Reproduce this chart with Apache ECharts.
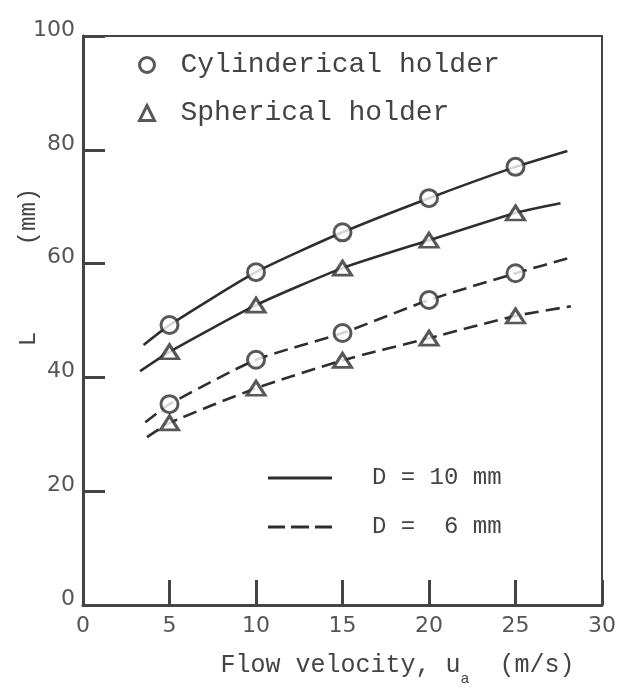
<!DOCTYPE html>
<html>
<head>
<meta charset="utf-8">
<script src="https://cdn.jsdelivr.net/npm/echarts@6/dist/echarts.min.js"></script>
<style>
  html, body { margin: 0; padding: 0; background: #fff; }
  #chart { width: 629px; height: 688px; }
</style>
</head>
<body>
<div id="chart"></div>
<script>
// ---- data ----
const velocity = [5, 10, 15, 20, 25];                 // flow velocity (m/s)
const cyl10 = [49.2, 58.5, 65.5, 71.5, 77.0];          // Cylinderical holder, D = 10 mm
const sph10 = [44.5, 52.7, 59.2, 64.1, 68.9];          // Spherical holder, D = 10 mm
const cyl6  = [35.3, 43.1, 47.8, 53.6, 58.3];          // Cylinderical holder, D = 6 mm
const sph6  = [32.0, 38.1, 43.0, 46.9, 50.8];          // Spherical holder, D = 6 mm
// fitted curve extensions beyond the measured points [start, end]
const cyl10Ends = [[3.5, 45.7], [28.0, 79.8]];
const sph10Ends = [[3.3, 41.1], [27.6, 70.6]];
const cyl6Ends  = [[3.6, 32.1], [28.1, 61.0]];
const sph6Ends  = [[3.7, 29.5], [28.2, 52.5]];
const xTicks = [0, 5, 10, 15, 20, 25, 30];
const yTicks = [0, 20, 40, 60, 80, 100];

const INK = '#2e2e2e';
const MONO = "'Liberation Mono', 'DejaVu Sans Mono', monospace";
const SANS = "'DejaVu Sans', sans-serif";

function pts(ys) { return velocity.map((x, i) => [x, ys[i]]); }
function curve(ys, ends) { return [ends[0]].concat(pts(ys), [ends[1]]); }

function lineSeries(name, ys, ends, dashed) {
  return {
    name: name, type: 'line', data: curve(ys, ends),
    symbol: 'none', smooth: 0.2, silent: true,
    color: INK,
    lineStyle: { color: INK, width: 2.6, type: dashed ? [14, 7] : 'solid' },
    emphasis: { disabled: true }, z: 2
  };
}

const markerStyle = { color: '#fff', borderColor: INK, borderWidth: 3 };

const option = {
  animation: false,
  backgroundColor: '#fff',
  grid: { left: 83, right: 27, top: 36, bottom: 83, show: true, borderColor: '#444', borderWidth: 2,
          backgroundColor: 'transparent', containLabel: false, outerBoundsMode: 'none' },
  xAxis: {
    type: 'value', min: xTicks[0], max: xTicks[xTicks.length - 1], interval: 5,
    axisLine: { show: true, lineStyle: { color: '#444', width: 3 } },
    axisTick: { show: true, inside: true, length: 25, lineStyle: { color: '#444', width: 3 } },
    splitLine: { show: false },
    axisLabel: { fontFamily: SANS, fontSize: 22, color: '#555', margin: 10 },
    name: 'Flow velocity, u{sub|a}  (m/s)',
    nameLocation: 'middle', nameGap: 38, nameMoveOverlap: false,
    nameTextStyle: {
      fontFamily: MONO, fontSize: 25, color: '#444', lineHeight: 44, padding: [0, 0, 0, 110],
      rich: { sub: { fontFamily: MONO, fontSize: 15, color: '#444', lineHeight: 44, verticalAlign: 'bottom' } }
    }
  },
  yAxis: {
    type: 'value', min: yTicks[0], max: yTicks[yTicks.length - 1], interval: 20,
    axisLine: { show: true, lineStyle: { color: '#444', width: 3 } },
    axisTick: { show: true, inside: true, length: 22, lineStyle: { color: '#444', width: 3 } },
    splitLine: { show: false },
    axisLabel: { fontFamily: SANS, fontSize: 22, color: '#555', margin: 8, verticalAlign: 'bottom', lineHeight: 12 },
    name: 'L      (mm)',
    nameLocation: 'middle', nameRotate: 90, nameGap: 42, nameMoveOverlap: false,
    nameTextStyle: { fontFamily: MONO, fontSize: 24, color: '#444', padding: [0, 0, 0, 107] }
  },
  legend: [
    {
      data: [
        { name: 'Cylinderical holder', icon: 'circle', itemStyle: { color: '#fff', borderColor: INK, borderWidth: 3 } },
        { name: 'Spherical holder', icon: 'triangle', itemStyle: { color: '#fff', borderColor: INK, borderWidth: 3 } }
      ],
      orient: 'vertical', left: 138, top: 50, padding: 0,
      itemWidth: 15, itemHeight: 15, itemGap: 18, selectedMode: false,
      textStyle: { fontFamily: MONO, fontSize: 28, color: '#444', lineHeight: 30, padding: [0, 0, 0, 21] }
    },
    {
      data: [
        { name: 'D = 10 mm', icon: 'rect', itemStyle: { color: INK, borderWidth: 0 } },
        { name: 'D =  6 mm', icon: 'path://M0,0h17v3h-17zM23,0h18v3h-18zM47,0h17v3h-17z', itemStyle: { color: INK, borderWidth: 0 } }
      ],
      orient: 'vertical', left: 268, top: 465, padding: 0,
      itemWidth: 64, itemHeight: 3, itemGap: 23, selectedMode: false,
      textStyle: { fontFamily: MONO, fontSize: 24, color: '#444', lineHeight: 26, padding: [0, 0, 0, 35] }
    }
  ],
  series: [
    lineSeries('D = 10 mm', cyl10, cyl10Ends, false),
    lineSeries('D = 10 mm', sph10, sph10Ends, false),
    lineSeries('D =  6 mm', cyl6, cyl6Ends, true),
    lineSeries('D =  6 mm', sph6, sph6Ends, true),
    {
      name: 'Cylinderical holder', type: 'scatter', data: pts(cyl10).concat(pts(cyl6)),
      symbol: 'circle', symbolSize: 17, itemStyle: markerStyle, silent: true,
      emphasis: { disabled: true }, z: 5
    },
    {
      name: 'Spherical holder', type: 'scatter', data: pts(sph10).concat(pts(sph6)),
      symbol: 'triangle', symbolSize: [18, 14], itemStyle: markerStyle, silent: true,
      emphasis: { disabled: true }, z: 5
    }
  ]
};

const chart = echarts.init(document.getElementById('chart'), null, { renderer: 'canvas' });
chart.setOption(option);
</script>
</body>
</html>
